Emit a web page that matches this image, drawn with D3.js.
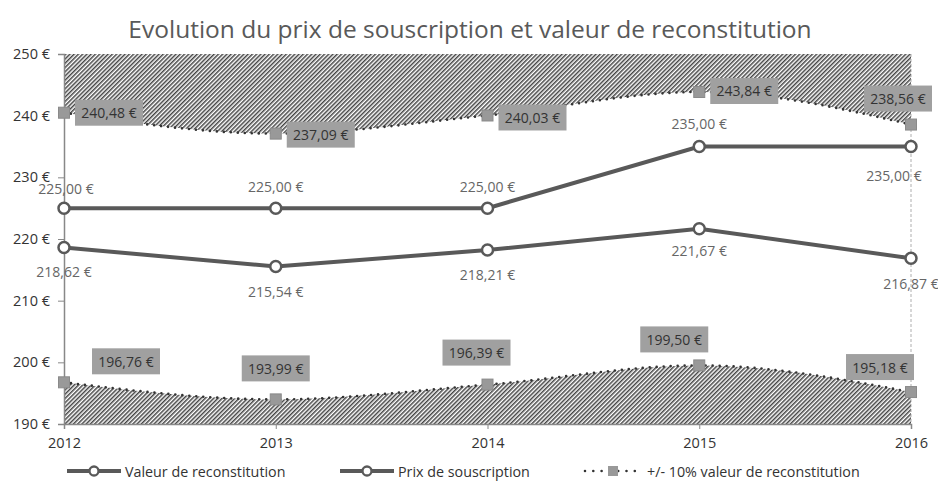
<!DOCTYPE html>
<html>
<head>
<meta charset="utf-8">
<script src="https://cdn.jsdelivr.net/npm/d3@7"></script>
<style>
  html, body { margin: 0; padding: 0; background: #fff; }
  svg { display: block; font-family: "Open Sans", "Noto Sans", sans-serif; }
</style>
</head>
<body>
<svg id="chart" width="938" height="484"></svg>
<script>
// Evolution du prix de souscription et valeur de reconstitution

const years = [2012, 2013, 2014, 2015, 2016];
const valeurReconstitution = [218.62, 215.54, 218.21, 221.67, 216.87];
const prixSouscription = [225.00, 225.00, 225.00, 235.00, 235.00];
const borneHaute = [240.48, 237.09, 240.03, 243.84, 238.56];
const borneBasse = [196.76, 193.99, 196.39, 199.50, 195.18];
const yTicks = [190, 200, 210, 220, 230, 240, 250];

// label placement (offsets from point, px)
const prixLabelOffset = [[2, -20], [0, -22], [0, -22], [0, -23], [-17, 29]];
const valeurLabelOffset = [[0, 24], [0, 25], [0, 24], [0, 22], [0, 25]];
const hauteBoxOffset = [[45, 0], [45, 1], [45, 2], [45, -1], [-13, -26]];
const basseBoxOffset = [[62, -21], [0, -31], [-11, -32], [-25, -26], [-31, -25]];

const svg = d3.select('#chart');
const W = 938;

const x = d3.scaleLinear().domain([2012, 2016]).range([64, 911]);
const y = d3.scaleLinear().domain([190, 250]).range([424, 54]);

const fmt = v => v.toFixed(2).replace('.', ',') + ' €';
const DARK = '#595959';

// hatch pattern
const defs = svg.append('defs');
const pat = defs.append('pattern')
    .attr('id', 'hatch')
    .attr('width', 3).attr('height', 3)
    .attr('patternUnits', 'userSpaceOnUse')
    .attr('patternTransform', 'rotate(45)');
pat.append('rect').attr('width', 3).attr('height', 3).attr('fill', '#fff');
pat.append('line')
    .attr('x1', 0.75).attr('y1', 0).attr('x2', 0.75).attr('y2', 3)
    .attr('stroke', '#444').attr('stroke-width', 1.5);

// Title
svg.append('text')
    .attr('x', W / 2 + 1)
    .attr('y', 38)
    .attr('text-anchor', 'middle')
    .style('font-size', '24.5px')
    .style('fill', DARK)
    .text('Evolution du prix de souscription et valeur de reconstitution');

const curve = d3.curveMonotoneX;
const haut = years.map((yr, i) => ({ yr, v: borneHaute[i] }));
const bas = years.map((yr, i) => ({ yr, v: borneBasse[i] }));

// hatched areas
svg.append('path')
    .datum(haut)
    .attr('fill', 'url(#hatch)')
    .attr('d', d3.area().curve(curve).x(d => x(d.yr)).y0(y(250)).y1(d => y(d.v)));
svg.append('path')
    .datum(bas)
    .attr('fill', 'url(#hatch)')
    .attr('d', d3.area().curve(curve).x(d => x(d.yr)).y0(y(190)).y1(d => y(d.v)));

// dashed vertical line at 2016
svg.append('line')
    .attr('x1', x(2016)).attr('x2', x(2016))
    .attr('y1', y(250)).attr('y2', y(190))
    .attr('stroke', '#999').attr('stroke-width', 0.8)
    .attr('stroke-dasharray', '3,2');

// Axes
const yAxis = svg.append('g')
    .attr('transform', `translate(${x(2012)},0)`)
    .call(d3.axisLeft(y).tickValues(yTicks).tickSize(6).tickPadding(8).tickFormat(d => d + ' €'));
const xAxis = svg.append('g')
    .attr('transform', `translate(0,${y(190)})`)
    .call(d3.axisBottom(x).tickValues(years).tickSize(5).tickPadding(9).tickFormat(d3.format('d')));
[yAxis, xAxis].forEach(a => {
    a.select('.domain').attr('stroke', '#888').attr('stroke-width', 1.5);
    a.selectAll('.tick line').attr('stroke', '#888');
    a.selectAll('.tick text').style('font-size', '14.5px').style('fill', '#333')
        .style('font-family', '"Open Sans", sans-serif');
});

// dotted bounds
const dotLine = d3.line().curve(curve).x(d => x(d.yr)).y(d => y(d.v));
[haut, bas].forEach(data => {
    svg.append('path')
        .datum(data)
        .attr('fill', 'none')
        .attr('stroke', '#333')
        .attr('stroke-width', 2.6)
        .attr('stroke-linecap', 'round')
        .attr('stroke-dasharray', '0 7')
        .attr('d', dotLine);
    svg.append('g').selectAll('rect')
        .data(data)
        .join('rect')
        .attr('x', d => x(d.yr) - 5.5)
        .attr('y', d => y(d.v) - 5.5)
        .attr('width', 11).attr('height', 11)
        .attr('fill', '#999')
        .attr('stroke', '#8a8a8a');
});

// main lines
const line = d3.line().x(d => x(d.yr)).y(d => y(d.v));
const prix = years.map((yr, i) => ({ yr, v: prixSouscription[i] }));
const valeur = years.map((yr, i) => ({ yr, v: valeurReconstitution[i] }));
[prix, valeur].forEach(data => {
    svg.append('path')
        .datum(data)
        .attr('fill', 'none')
        .attr('stroke', DARK)
        .attr('stroke-width', 4)
        .attr('d', line);
    svg.append('g').selectAll('circle')
        .data(data)
        .join('circle')
        .attr('cx', d => x(d.yr))
        .attr('cy', d => y(d.v))
        .attr('r', 5.5)
        .attr('fill', '#fff')
        .attr('stroke', DARK)
        .attr('stroke-width', 2.5);
});

// point labels
function pointLabels(data, offsets) {
    svg.append('g').selectAll('text')
        .data(data)
        .join('text')
        .attr('x', (d, i) => x(d.yr) + offsets[i][0])
        .attr('y', (d, i) => y(d.v) + offsets[i][1])
        .attr('text-anchor', 'middle')
        .attr('dominant-baseline', 'central')
        .style('font-size', '14px')
        .style('fill', '#666')
        .text(d => fmt(d.v));
}
pointLabels(prix, prixLabelOffset);
pointLabels(valeur, valeurLabelOffset);

// boxed labels
function boxLabels(data, offsets) {
    const g = svg.append('g').selectAll('g')
        .data(data)
        .join('g')
        .attr('transform', (d, i) => `translate(${x(d.yr) + offsets[i][0]},${y(d.v) + offsets[i][1]})`);
    g.append('rect')
        .attr('x', -34).attr('y', -13)
        .attr('width', 68).attr('height', 26)
        .attr('fill', '#a0a0a0');
    g.append('text')
        .attr('text-anchor', 'middle')
        .attr('dominant-baseline', 'central')
        .style('font-size', '14px')
        .style('fill', '#333')
        .text(d => fmt(d.v));
}
boxLabels(haut, hauteBoxOffset);
boxLabels(bas, basseBoxOffset);

// Legend
const ly = 471;
const legend = svg.append('g');
const legendItems = [
    { x0: 67, label: 'Valeur de reconstitution', type: 'line' },
    { x0: 340, label: 'Prix de souscription', type: 'line' },
    { x0: 583, label: '+/- 10% valeur de reconstitution', type: 'dot' }
];
legendItems.forEach(it => {
    if (it.type === 'line') {
        legend.append('line')
            .attr('x1', it.x0).attr('x2', it.x0 + 54)
            .attr('y1', ly).attr('y2', ly)
            .attr('stroke', DARK).attr('stroke-width', 4);
        legend.append('circle')
            .attr('cx', it.x0 + 27).attr('cy', ly).attr('r', 4.5)
            .attr('fill', '#fff').attr('stroke', DARK).attr('stroke-width', 2.3);
        legend.append('text')
            .attr('x', it.x0 + 58).attr('y', ly)
            .attr('dominant-baseline', 'central')
            .style('font-size', '14.3px').style('fill', '#333')
            .text(it.label);
    } else {
        legend.append('line')
            .attr('x1', it.x0 + 2).attr('x2', it.x0 + 54)
            .attr('y1', ly).attr('y2', ly)
            .attr('stroke', '#333').attr('stroke-width', 2.6)
            .attr('stroke-linecap', 'round')
            .attr('stroke-dasharray', '0 8.3');
        legend.append('rect')
            .attr('x', it.x0 + 25).attr('y', ly - 5)
            .attr('width', 10).attr('height', 10)
            .attr('fill', '#999');
        legend.append('text')
            .attr('x', it.x0 + 64).attr('y', ly)
            .attr('dominant-baseline', 'central')
            .style('font-size', '14.3px').style('fill', '#333')
            .text(it.label);
    }
});
</script>
</body>
</html>
